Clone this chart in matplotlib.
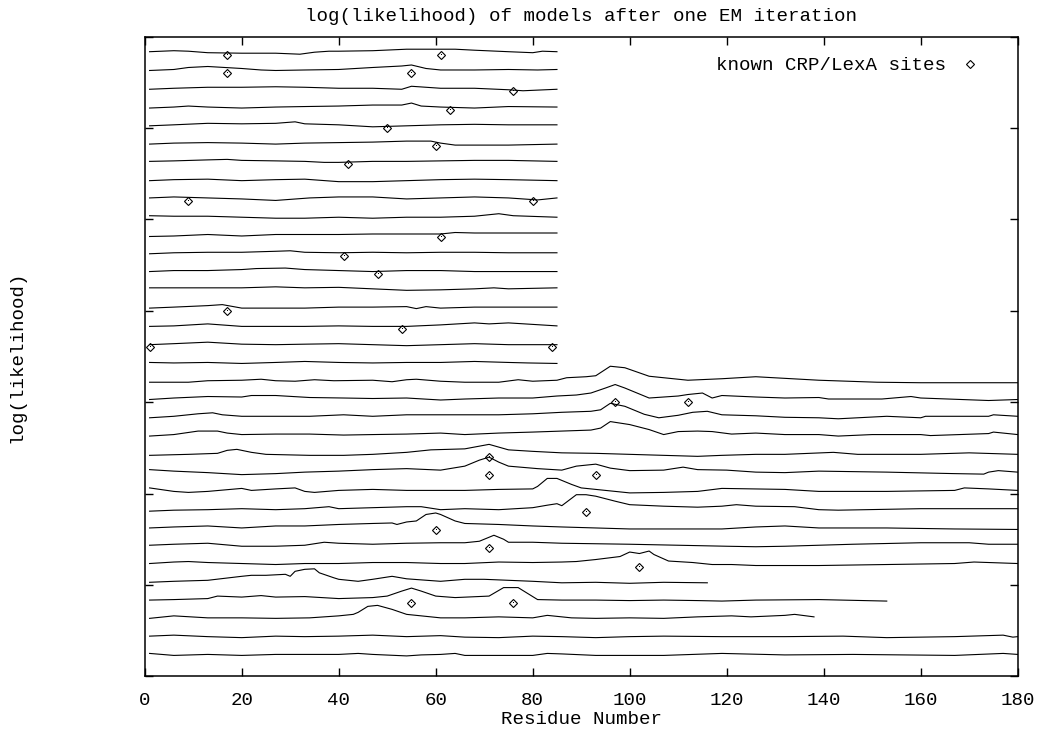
"""Stacked log(likelihood) traces of sequences after one EM iteration."""

import matplotlib

matplotlib.use("Agg")
import matplotlib.pyplot as plt

plt.rcParams["font.family"] = ["Liberation Mono", "DejaVu Sans Mono"]

# relative log(likelihood) along each sequence, as (residue, value) pairs,
# top sequence first
trace00 = [(1, 0), (6, 1), (9, 0.5), (13, -1), (20, -1.5), (27, -1.5), (32, -2.5), (35, -0.5), (38, 0.5),
           (40, 0.5), (47, 1), (54, 2.5), (60, 2.5), (64, 2.5), (68, 1.5), (75, 0), (80, -1), (82, 0.5), (85, 0)]
trace01 = [(1, -0.5), (6, 0.5), (9, 2.5), (13, 3.5), (20, 1.5), (24, 0), (27, -0.5), (33, 0), (40, 0.5),
           (47, 2.5), (53, 4), (55, 5), (58, 1.5), (61, 0), (68, 0), (75, 0.5), (81, 0), (85, 0.5)]
trace02 = [(1, -1), (6, 0), (13, 1), (20, 1), (27, 1.5), (33, 1), (40, 0), (47, 0), (53, -1), (55, 2),
           (58, 1), (61, 0), (68, 0), (75, -1.5), (78, -2.5), (85, -1)]
trace03 = [(1, -1.5), (6, -0.5), (9, 0.5), (13, -0.5), (20, -1.5), (27, -0.5), (33, 0), (40, 0.5), (47, 1.5),
           (53, 1.5), (55, 3.5), (57, 0.5), (61, -0.5), (68, -1.5), (75, 0), (85, -0.5)]
trace04 = [(1, -1), (6, 0), (13, 1.5), (20, 1), (27, 1.5), (31, 3), (33, 1), (40, 0), (47, -2), (54, -1),
           (61, 0), (68, 0.5), (75, 0), (85, 0)]
trace05 = [(1, -1), (6, 0), (13, 0.5), (20, 0), (27, -1), (33, 0), (40, 0.5), (47, 1), (54, 2), (59, 2),
           (61, 0), (64, -2), (68, -2), (75, -2), (85, -1)]
trace06 = [(1, 0), (6, 0.5), (13, 1.5), (17, 2), (20, 1), (27, 0.5), (33, 0), (37, -1), (40, -1), (47, 0),
           (54, 0), (61, 0.5), (68, 1), (75, 1), (85, 0)]
trace07 = [(1, -1), (6, 0), (13, 0.5), (20, -1), (27, 0), (33, 0.5), (40, -2), (47, -2), (54, -1), (61, 0),
           (68, 0.5), (75, 0), (85, -1)]
trace08 = [(1, 0), (6, 1), (13, 0), (20, -1), (27, -2.5), (34, 0), (40, 1), (47, 1), (54, -1), (61, 0),
           (68, 1), (75, 0), (81, -2), (85, 0)]
trace09 = [(1, 0.5), (6, 0), (13, 0), (20, -1), (27, -2), (33, -2), (40, -1), (47, -2), (54, -1), (61, -1),
           (68, 0), (73, 2.5), (76, 0.5), (85, -1)]
trace10 = [(1, -2), (6, -1.5), (13, 0), (20, -1.5), (27, 0), (33, 0), (40, 0), (47, 0.5), (54, 0.5),
           (61, 0.5), (64, 2), (68, 1.5), (75, 1.5), (85, 1.5)]
trace11 = [(1, -1), (6, 0), (13, 0.5), (20, 0.5), (27, 1.5), (30, 2), (33, 0.5), (40, 0), (47, 0.5), (54, 0),
           (61, 0.5), (68, 0.5), (75, 0), (85, 0)]
trace12 = [(1, -0.5), (6, 0.5), (13, 0.5), (20, 1.5), (23, 2.5), (29, 3), (33, 1.5), (40, 0.5), (47, -0.5),
           (54, 0.5), (61, 0.5), (68, -0.5), (75, -0.5), (85, -0.5)]
trace13 = [(1, 1.5), (6, 1.5), (13, 1.5), (20, 1.5), (27, 2.5), (33, 1.5), (40, 2), (47, 0.5), (54, -1),
           (61, -0.5), (68, 0.5), (72, 1.5), (75, 0.5), (85, 1.5)]
trace14 = [(1, -0.5), (6, 0.5), (13, 2), (16, 3), (20, -0.5), (27, -0.5), (33, -0.5), (40, 0.5), (47, 0.5),
           (54, 1), (56, -1), (58, 1), (61, -0.5), (68, 0.5), (75, 0.5), (85, 0.5)]
trace15 = [(1, -0.5), (6, 0), (13, 2), (20, -0.5), (27, -0.5), (33, -0.5), (40, 0), (47, -0.5), (54, -0.5),
           (61, 1), (68, 3), (71, 2), (75, 3), (85, 0)]
trace16 = [(1, -0.5), (6, 0.5), (13, 2), (20, 0), (27, -0.5), (33, 0), (40, 0.5), (47, -0.5), (54, -1.5),
           (61, -0.5), (68, 0.5), (75, -0.5), (85, -0.5)]
trace17 = [(1, 0), (6, -0.5), (13, 0), (20, -1), (27, 0), (33, 1), (40, 0), (47, -0.5), (54, 0), (61, 0),
           (68, 1), (75, 0), (79, -0.5), (85, -1)]
trace18 = [(1, -1.5), (9, -1.5), (13, 0), (20, 0.5), (24, 1.5), (27, 0), (31, -0.5), (35, 1), (39, 0),
           (47, 0.5), (51, -1), (54, 1), (56, 1.5), (61, -0.5), (66, -1.5), (73, -1.5), (77, 1), (80, -0.5),
           (85, 0.5), (87, 3), (91, 4), (93, 5), (96, 14.5), (99, 13), (104, 4.5), (112, 0.5), (119, 2),
           (126, 4), (139, 0.5), (151, -1.5), (160, -2), (180, -2)]
trace19 = [(1, -0.5), (6, 1), (13, 2.5), (20, 2), (22, 3.5), (27, 3.5), (34, 1.5), (41, 1), (47, 0.5),
           (54, 1), (61, -1), (66, 0), (73, 1), (80, 1), (85, 3), (89, 4), (92, 6), (95, 11), (97, 14.5),
           (99, 11), (104, 1), (110, 3), (112, 4.5), (115, 6), (117, 1), (119, 3.5), (126, 2), (132, 1),
           (139, 1.5), (141, 0), (152, 0), (158, 2.5), (160, 1), (174, -1.5), (180, -0.5)]
trace20 = [(1, -0.5), (6, 1), (11, 3.5), (14, 4.5), (16, 2.5), (20, 1), (27, 1), (34, 1), (41, 2.5), (47, 1),
           (54, 2.5), (61, 2.5), (66, 2.5), (73, 2.5), (80, 3.5), (86, 5), (92, 6), (94, 7.5), (96, 14),
           (99, 11), (103, 3), (106, -0.5), (110, 2), (113, 5), (116, 6), (119, 2.5), (126, 1.5), (132, 0),
           (139, -0.5), (143, -1.5), (153, 1), (160, -0.5), (161, 1), (174, 1), (175, 2.5), (180, 1)]
trace21 = [(1, -0.5), (6, 1), (11, 4.5), (15, 4.5), (17, 2.5), (20, 1), (27, 1.5), (34, 1.5), (41, 0.5),
           (47, 1), (54, 1.5), (61, 2.5), (66, 1), (73, 2.5), (80, 3.5), (86, 4.5), (92, 5.5), (94, 7.5),
           (96, 14), (100, 11), (104, 6), (107, 1), (110, 4), (114, 4.5), (117, 4), (121, 1.5), (126, 2.5),
           (132, 1), (139, 1), (143, -0.5), (150, 1), (160, 1), (162, 0), (174, 2), (175, 3.5), (180, 1)]
trace22 = [(1, -1.5), (9, -0.5), (15, 0.5), (17, 3.5), (19, 4.5), (22, 1.5), (25, -0.5), (34, -1.5),
           (41, -1.5), (47, -0.5), (54, 1.5), (59, 4), (66, 5), (71, 9.5), (75, 4), (80, 2.5), (86, 1),
           (93, 0.5), (100, -0.5), (114, -2.5), (119, -1.5), (126, -0.5), (132, -0.5), (142, 1.5),
           (147, -0.5), (160, -0.5), (170, 1), (180, -0.5)]
trace23 = [(1, 2.5), (6, 1), (13, -0.5), (20, -2.5), (27, -1.5), (33, 0), (40, 1), (47, 2.5), (54, 3.5),
           (61, 2), (66, 6), (69, 12), (71, 15), (73, 10), (75, 6), (81, 3.5), (86, 2), (89, 6), (93, 8),
           (96, 4), (100, 1.5), (107, 2), (111, 5), (114, 2.5), (120, 2), (126, 0), (132, -0.5), (139, 1),
           (153, 0), (167, -1.5), (173, -2), (174, 0), (176, 1.5), (180, 0)]
trace24 = [(1, 2.5), (6, -1), (9, -2), (13, -1), (20, 2), (22, 0), (27, 1.5), (31, 2.5), (33, -1), (35, -2),
           (40, 0), (47, 1), (54, 0), (61, 0), (66, 0), (73, 1), (80, 1.5), (81, 4), (83, 12), (85, 12),
           (88, 6), (90, 2.5), (93, 1), (100, -2.5), (107, -2), (114, -1), (119, 2), (132, 1), (139, -1),
           (153, -1), (167, 0), (169, 2.5), (174, 1.5), (180, 0)]
trace25 = [(1, -2.5), (6, -1.5), (13, -1), (20, 0), (27, -1), (33, 0), (38, 2), (40, 0), (47, 1), (54, 2),
           (57, 2), (61, -1), (66, 0), (73, -1), (80, 1), (83, 3.5), (85, 5), (86, 3), (89, 14), (91, 14),
           (93, 12.5), (97, 7.5), (100, 4), (107, 2.5), (114, 1.5), (119, 2.5), (122, 4), (126, 2.5),
           (134, 2), (139, -1), (143, -1.5), (160, 0), (180, 0)]
trace26 = [(1, -1), (6, 0), (13, 1), (20, -1), (27, 1), (33, 1), (40, 2.5), (47, 3.5), (51, 4), (52, 2.5),
           (54, 5), (56, 6), (58, 12.5), (60, 14), (61, 12.5), (64, 6), (66, 3.5), (73, 2.5), (80, 1),
           (86, 0), (93, -1), (100, -2), (119, -2), (126, 0), (132, 1), (139, -1), (153, -1), (167, -2),
           (180, -2.5)]
trace27 = [(1, 0), (6, 1), (13, 2), (20, -1), (27, -1), (33, 0), (37, 3), (40, 2), (47, 1), (54, 2),
           (61, 2.5), (66, 2.5), (69, 4), (72, 10), (74, 6), (75, 3), (80, 3), (86, 2), (100, 1), (120, -1),
           (126, -1.5), (132, -1), (146, 1), (160, 2.5), (170, 2.5), (174, 1), (180, 1)]
trace28 = [(1, 0), (6, 1.5), (9, 2), (13, 1), (20, 0), (27, -1), (33, 0), (40, 0), (47, 1), (54, 1), (61, 0),
           (66, 0), (73, 1.5), (80, 1), (86, 1.5), (89, 2), (93, 4), (98, 7), (100, 11.5), (102, 10),
           (104, 12.5), (105, 9), (108, 2.5), (113, 1), (117, -1), (121, -1), (126, -2), (139, -2),
           (153, -1), (167, 0), (171, 1.5), (174, 1), (180, 0)]
trace29 = [(1, -0.5), (6, 0.5), (13, 1.5), (20, 5.5), (22, 6.5), (25, 6.5), (29, 7.5), (30, 5.5),
           (31, 10.5), (33, 12.5), (35, 13), (36, 9), (39, 4), (40, 2.5), (44, 0.5), (47, 2.5), (51, 5.5),
           (54, 3), (61, 0.5), (66, 2.5), (70, 2.5), (80, 0.5), (86, -1), (93, -0.5), (100, -1.5),
           (107, -0.5), (116, -1)]
trace30 = [(1, 0), (6, 0.5), (13, 1.5), (15, 4), (20, 3), (24, 4.5), (27, 3), (33, 3.5), (40, 1.5),
           (47, 2.5), (50, 4), (53, 9), (55, 12), (57, 9), (60, 4), (64, 2.5), (71, 4), (74, 12.5),
           (77, 12.5), (81, 0.5), (86, 0), (93, 0), (100, -0.5), (107, 0), (114, -0.5), (119, -1), (126, 0),
           (139, 0.5), (153, -1)]
trace31 = [(1, 0), (6, 2.5), (13, 0.5), (20, 0.5), (27, 0), (34, 0.5), (40, 2.5), (43, 4), (44, 6), (46, 12),
           (48, 13), (51, 9), (54, 4), (57, 2.5), (61, 0.5), (66, 0.5), (73, 1.5), (80, 0.5), (83, 3),
           (88, 0.5), (93, 0), (100, 0.5), (107, 0), (114, 1.5), (121, 2.5), (125, 1.5), (132, 3), (134, 4),
           (138, 1.5)]
trace32 = [(1, 0.5), (6, 1.5), (13, 0), (20, -1), (27, 0.5), (33, 0), (40, 0.5), (47, 1.5), (54, 0), (61, 1),
           (66, -0.5), (73, -1), (80, 0.5), (86, 0), (93, -1), (100, 0), (107, 0.5), (119, 0), (132, 0),
           (144, 0.5), (153, -1), (167, 0), (177, 1.5), (179, -0.5), (180, 0)]
trace33 = [(1, 1.5), (6, -0.5), (13, 0.5), (20, -0.5), (27, 0.5), (33, 0.5), (40, 0.5), (44, 1.5), (47, 0.5),
           (54, -1), (57, 0), (61, 0.5), (64, 1.5), (66, -0.5), (80, -0.5), (83, 1.5), (86, 1), (93, -0.5),
           (107, -0.5), (119, 1.5), (132, 0), (146, 0.5), (167, -0.5), (177, 1.5), (180, 0.5)]

TRACES = [trace00, trace01, trace02, trace03, trace04, trace05, trace06, trace07, trace08, trace09,
          trace10, trace11, trace12, trace13, trace14, trace15, trace16, trace17, trace18, trace19,
          trace20, trace21, trace22, trace23, trace24, trace25, trace26, trace27, trace28, trace29,
          trace30, trace31, trace32, trace33]

# known CRP/LexA sites: which sequence, and where
SITE_TRACE = [0, 0, 1, 1, 2, 3, 4, 5, 6, 8, 8, 10, 11, 12, 14, 15, 16, 16, 19, 19, 22, 23, 23, 25, 26, 27,
              28, 30, 30]
SITE_RESIDUE = [17, 61, 17, 55, 76, 63, 50, 60, 42, 9, 80, 61, 41, 48, 17, 53, 1, 84, 97, 112, 71, 71, 93,
                91, 60, 71, 102, 55, 76]

X_TICKS = [0, 20, 40, 60, 80, 100, 120, 140, 160, 180]

OFFSET_STEP = 18.3   # vertical gap between stacked sequences
SITE_DROP = 3.0      # site markers sit just under their sequence
Y_TOP, Y_BOTTOM = 15.2, -624.6
FONT_SIZE = 13.8


def main() -> None:
    fig = plt.figure(figsize=(10.39, 7.29), dpi=100)
    ax = fig.add_axes([0.1393, 0.0723, 0.8402, 0.8776])

    for i, trace in enumerate(TRACES):
        xs = [p[0] for p in trace]
        ys = [p[1] - i * OFFSET_STEP for p in trace]
        ax.plot(xs, ys, color="black", linewidth=0.8)

    site_y = [-t * OFFSET_STEP - SITE_DROP for t in SITE_TRACE]
    ax.plot(SITE_RESIDUE, site_y, linestyle="none", marker="D", markersize=4.2,
            markerfacecolor="none", markeredgecolor="black", markeredgewidth=0.8,
            label="known CRP/LexA sites")
    ax.plot(SITE_RESIDUE, site_y, linestyle="none", marker=",", color="black")

    ax.set_xlim(0, 180)
    ax.set_ylim(Y_BOTTOM, Y_TOP)
    ax.set_xticks(X_TICKS)
    ax.set_xticklabels([str(v) for v in X_TICKS])
    ax.set_yticks([Y_TOP - 5 * OFFSET_STEP * k for k in range(8)])
    ax.set_yticklabels([])
    ax.tick_params(direction="in", length=6, width=1, top=True, right=True,
                   labelsize=FONT_SIZE, pad=11)
    for spine in ax.spines.values():
        spine.set_linewidth(1.1)

    ax.set_title("log(likelihood) of models after one EM iteration", fontsize=FONT_SIZE, pad=11)
    ax.set_xlabel("Residue Number", fontsize=FONT_SIZE, labelpad=2)
    ax.set_ylabel("log(likelihood)", fontsize=FONT_SIZE)
    ax.yaxis.set_label_coords(-0.137, 0.5)

    ax.legend(loc="upper right", bbox_to_anchor=(0.956, 0.968), markerfirst=False,
              frameon=False, handlelength=1.0, handletextpad=0.75, borderpad=0,
              borderaxespad=0, fontsize=FONT_SIZE)

    fig.savefig("out.png", dpi=100)
    plt.close(fig)


if __name__ == "__main__":
    main()
